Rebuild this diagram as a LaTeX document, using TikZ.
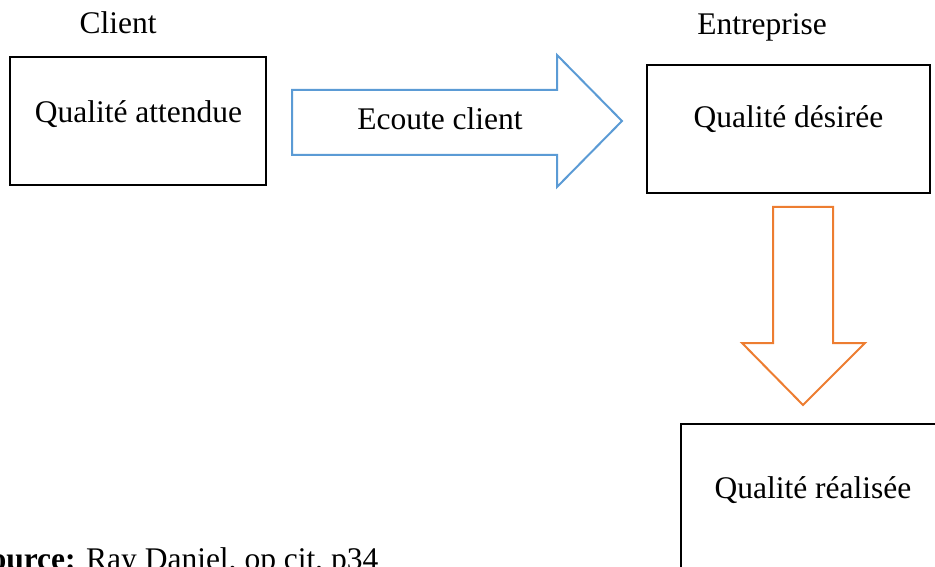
\documentclass[tikz,border=0pt]{standalone}
\usepackage{fontspec}
\setmainfont{Liberation Serif}
\definecolor{arrowblue}{HTML}{5B9BD5}
\definecolor{arroworange}{HTML}{ED7D31}
\begin{document}
\begin{tikzpicture}[x=1pt,y=-1pt,
  every node/.style={inner sep=0pt,outer sep=0pt},
  txt/.style={font=\fontsize{31.5}{36}\selectfont,anchor=base},
  qbox/.style={draw=black,line width=2pt,rectangle},
  blockarrow/.style={line width=2pt,line join=miter,fill=white}]
\useasboundingbox (0,0) rectangle (935,567);
\clip (0,0) rectangle (935,567);

% headings
\node[txt] (client) at (118,34) {Client};
\node[txt] (entreprise) at (762,35) {Entreprise};

% quality boxes
\node[qbox,minimum width=256pt,minimum height=128pt] (attendue) at (138,121) {};
\node[txt] (tattendue) at (138.5,123) {Qualité attendue};

\node[qbox,minimum width=283pt,minimum height=128pt] (desiree) at (788.5,129) {};
\node[txt] (tdesiree) at (788.5,128) {Qualité désirée};

\node[qbox,minimum width=270pt,minimum height=170pt] (realisee) at (816,509) {};
\node[txt] (trealisee) at (813,498) {Qualité réalisée};

% block arrow: listening to the client
\draw[blockarrow,draw=arrowblue]
  (292,90) -- (557,90) -- (557,55) -- (622,121) -- (557,187) -- (557,155) -- (292,155) -- cycle;
\node[txt] (ecoute) at (440,130) {Ecoute client};

% block arrow: from desired to achieved quality
\draw[blockarrow,draw=arroworange]
  (773,207) -- (833,207) -- (833,343) -- (865,343) -- (803,405) -- (742,343) -- (773,343) -- cycle;

% source line
\node[txt,anchor=base west] (source) at (-27,569) {\textbf{Source:} Ray Daniel, op cit, p34};
\end{tikzpicture}
\end{document}
